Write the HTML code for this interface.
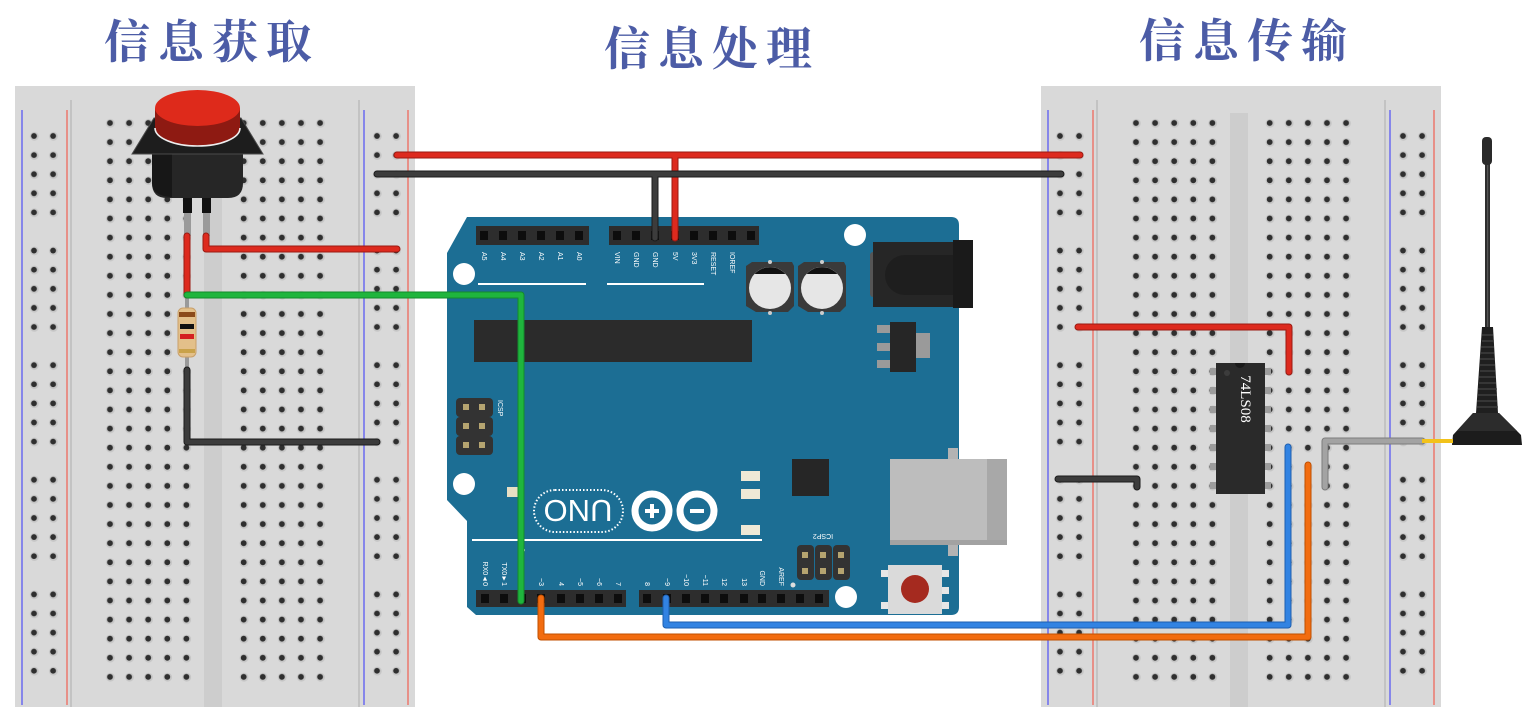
<!DOCTYPE html>
<html><head><meta charset="utf-8"><style>
html,body{margin:0;padding:0;background:#fff;}
svg{display:block}
.t{font-family:"Liberation Serif","Noto Serif CJK SC",serif;font-size:46px;fill:#4c5ca6;font-weight:bold;letter-spacing:8px}
.pl{font-family:"Liberation Sans",sans-serif;font-size:7px;fill:#fff}
</style></head><body>
<svg width="1534" height="716" viewBox="0 0 1534 716" xmlns="http://www.w3.org/2000/svg">
<defs>
 <pattern id="ph" x="0" y="0" width="19.1" height="19.1" patternUnits="userSpaceOnUse">
  <circle cx="9.9" cy="9.9" r="4.4" fill="#c6c6c6"/>
  <circle cx="9.55" cy="9.55" r="2.9" fill="#2f2f2f"/>
 </pattern>
 <pattern id="pr" x="0" y="0" width="19.1" height="114.6" patternUnits="userSpaceOnUse">
  <g fill="#c6c6c6">
   <circle cx="9.9" cy="9.9" r="4.4"/><circle cx="9.9" cy="29" r="4.4"/><circle cx="9.9" cy="48.1" r="4.4"/><circle cx="9.9" cy="67.2" r="4.4"/><circle cx="9.9" cy="86.3" r="4.4"/>
  </g>
  <g fill="#2f2f2f">
   <circle cx="9.55" cy="9.55" r="2.9"/><circle cx="9.55" cy="28.65" r="2.9"/><circle cx="9.55" cy="47.75" r="2.9"/><circle cx="9.55" cy="66.85" r="2.9"/><circle cx="9.55" cy="85.95" r="2.9"/>
  </g>
 </pattern>
</defs>

<!-- Titles -->
<text class="t" x="212" y="58" text-anchor="middle">信息获取</text>
<text class="t" x="712" y="65" text-anchor="middle">信息处理</text>
<text class="t" x="1247" y="57" text-anchor="middle">信息传输</text>

<!-- Left breadboard -->
<g>
 <rect x="15" y="86" width="400" height="621" fill="#d9d9d9"/>
 <rect x="204" y="113" width="18" height="594" fill="#cdcdcd"/>
 <line x1="71" y1="100" x2="71" y2="707" stroke="#bcbcbc" stroke-width="1.5"/>
 <line x1="359" y1="100" x2="359" y2="707" stroke="#bcbcbc" stroke-width="1.5"/>
 <line x1="22" y1="110" x2="22" y2="705" stroke="#6a6af0" stroke-width="1.5"/>
 <line x1="67" y1="110" x2="67" y2="705" stroke="#ec786e" stroke-width="1.5"/>
 <line x1="364" y1="110" x2="364" y2="705" stroke="#6a6af0" stroke-width="1.5"/>
 <line x1="408" y1="110" x2="408" y2="705" stroke="#ec786e" stroke-width="1.5"/>
 <g transform="translate(100.45,113.45)"><rect width="95.5" height="573" fill="url(#ph)"/></g>
 <g transform="translate(234.15,113.45)"><rect width="95.5" height="573" fill="url(#ph)"/></g>
 <g transform="translate(24.45,126.45)"><rect width="38.2" height="573" fill="url(#pr)"/></g>
 <g transform="translate(367.45,126.45)"><rect width="38.2" height="573" fill="url(#pr)"/></g>
</g>

<!-- Right breadboard -->
<g transform="translate(1026,0)">
 <rect x="15" y="86" width="400" height="621" fill="#d9d9d9"/>
 <rect x="204" y="113" width="18" height="594" fill="#cdcdcd"/>
 <line x1="71" y1="100" x2="71" y2="707" stroke="#bcbcbc" stroke-width="1.5"/>
 <line x1="359" y1="100" x2="359" y2="707" stroke="#bcbcbc" stroke-width="1.5"/>
 <line x1="22" y1="110" x2="22" y2="705" stroke="#6a6af0" stroke-width="1.5"/>
 <line x1="67" y1="110" x2="67" y2="705" stroke="#ec786e" stroke-width="1.5"/>
 <line x1="364" y1="110" x2="364" y2="705" stroke="#6a6af0" stroke-width="1.5"/>
 <line x1="408" y1="110" x2="408" y2="705" stroke="#ec786e" stroke-width="1.5"/>
 <g transform="translate(100.45,113.45)"><rect width="95.5" height="573" fill="url(#ph)"/></g>
 <g transform="translate(234.15,113.45)"><rect width="95.5" height="573" fill="url(#ph)"/></g>
 <g transform="translate(24.45,126.45)"><rect width="38.2" height="573" fill="url(#pr)"/></g>
 <g transform="translate(367.45,126.45)"><rect width="38.2" height="573" fill="url(#pr)"/></g>
</g>

<!-- Push button -->
<g>
 <rect x="184" y="212" width="7" height="24" fill="#9a9a9a"/>
 <rect x="203" y="212" width="7" height="24" fill="#9a9a9a"/>
 <rect x="183" y="194" width="9" height="19" fill="#111"/>
 <rect x="202" y="194" width="9" height="19" fill="#111"/>
 <path d="M152,154 H243 V183 Q243,198 228,198 H167 Q152,198 152,183 Z" fill="#262626"/>
 <path d="M152,154 H172 V197 Q152,196 152,183 Z" fill="#171717"/>
 <polygon points="154,118 241,118 263,154 132,154" fill="#1d1d1d" stroke="#4a4a4a" stroke-width="1"/>
 <path d="M155,108 V128 A42.5,18 0 0 0 240,128 V108 Z" fill="#8e1a12"/>
 <path d="M155,128 A42.5,18 0 0 0 240,128" fill="none" stroke="#eeeeee" stroke-width="1.6"/>
 <ellipse cx="197.5" cy="108" rx="42.5" ry="18" fill="#de2a1b"/>
</g>

<!-- Resistor -->
<g>
 <rect x="185" y="297" width="4" height="76" fill="#9a9a9a"/>
 <rect x="178" y="308" width="18" height="49" rx="5" fill="#e3c08a" stroke="#c9a06a" stroke-width="1"/>
 <rect x="179" y="312" width="16" height="5" fill="#8b4a1a"/>
 <rect x="180" y="324" width="14" height="5" fill="#111"/>
 <rect x="180" y="334" width="14" height="5" fill="#d42020"/>
 <rect x="179" y="349" width="16" height="4" fill="#c9a24a"/>
</g>

<!-- Arduino UNO -->
<g>
 <path d="M467,217 H951 Q959,217 959,225 V607 Q959,615 951,615 H476 L467,607 V521 L447,500 V253 Z" fill="#1c6e94"/>
 <!-- mounting holes -->
 <circle cx="464" cy="274" r="11" fill="#fff"/>
 <circle cx="855" cy="235" r="11" fill="#fff"/>
 <circle cx="464" cy="484" r="11" fill="#fff"/>
 <circle cx="846" cy="597" r="11" fill="#fff"/>
 <!-- top headers -->
 <rect x="476" y="226" width="113" height="19" fill="#2d2d2d"/>
 <g fill="#0d0d0d">
  <rect x="480" y="231" width="8" height="9"/><rect x="499" y="231" width="8" height="9"/><rect x="518" y="231" width="8" height="9"/><rect x="537" y="231" width="8" height="9"/><rect x="556" y="231" width="8" height="9"/><rect x="575" y="231" width="8" height="9"/>
 </g>
 <rect x="609" y="226" width="150" height="19" fill="#2d2d2d"/>
 <g fill="#0d0d0d">
  <rect x="613" y="231" width="8" height="9"/><rect x="632" y="231" width="8" height="9"/><rect x="651" y="231" width="8" height="9"/><rect x="671" y="231" width="8" height="9"/><rect x="690" y="231" width="8" height="9"/><rect x="709" y="231" width="8" height="9"/><rect x="728" y="231" width="8" height="9"/><rect x="747" y="231" width="8" height="9"/>
 </g>
 <g class="pl">
  <text transform="translate(482,252) rotate(90)">A5</text>
  <text transform="translate(501,252) rotate(90)">A4</text>
  <text transform="translate(520,252) rotate(90)">A3</text>
  <text transform="translate(539,252) rotate(90)">A2</text>
  <text transform="translate(558,252) rotate(90)">A1</text>
  <text transform="translate(577,252) rotate(90)">A0</text>
  <text transform="translate(615,252) rotate(90)">VIN</text>
  <text transform="translate(634,252) rotate(90)">GND</text>
  <text transform="translate(653,252) rotate(90)">GND</text>
  <text transform="translate(673,252) rotate(90)">5V</text>
  <text transform="translate(692,252) rotate(90)">3V3</text>
  <text transform="translate(711,252) rotate(90)">RESET</text>
  <text transform="translate(730,252) rotate(90)">IOREF</text>
 </g>
 <line x1="478" y1="284" x2="586" y2="284" stroke="#fff" stroke-width="2"/>
 <line x1="607" y1="284" x2="704" y2="284" stroke="#fff" stroke-width="2"/>
 <!-- capacitors -->
 <g>
  <polygon points="752,262 792,262 794,266 794,306 788,312 756,312 746,306 746,266" fill="#3a3a3a"/>
  <circle cx="770" cy="288" r="21" fill="#e6e6e6"/>
  <path d="M754.5,274 A21,21 0 0 1 785.5,274 Z" fill="#111"/>
  <circle cx="770" cy="262" r="2" fill="#ccc"/><circle cx="770" cy="313" r="2" fill="#ccc"/>
  <polygon points="804,262 844,262 846,266 846,306 840,312 808,312 798,306 798,266" fill="#3a3a3a"/>
  <circle cx="822" cy="288" r="21" fill="#e6e6e6"/>
  <path d="M806.5,274 A21,21 0 0 1 837.5,274 Z" fill="#111"/>
  <circle cx="822" cy="262" r="2" fill="#ccc"/><circle cx="822" cy="313" r="2" fill="#ccc"/>
 </g>
 <!-- power jack -->
 <rect x="870" y="252" width="6" height="45" rx="3" fill="#555"/>
 <rect x="873" y="242" width="82" height="65" fill="#262626"/>
 <path d="M905,255 H955 V295 H905 A20,20 0 0 1 905,255 Z" fill="#1e1e1e"/>
 <rect x="953" y="240" width="20" height="68" fill="#1a1a1a"/>
 <!-- regulator -->
 <g fill="#9a9a9a">
  <rect x="877" y="325" width="13" height="8"/><rect x="877" y="343" width="13" height="8"/><rect x="877" y="360" width="13" height="8"/>
  <rect x="916" y="333" width="14" height="25"/>
 </g>
 <rect x="890" y="322" width="26" height="50" fill="#262626"/>
 <!-- ATmega -->
 <rect x="474" y="320" width="278" height="42" fill="#2b2b2b"/>
 <!-- ICSP -->
 <g>
  <rect x="456" y="398" width="37" height="19" rx="4" fill="#333"/>
  <rect x="456" y="417" width="37" height="19" rx="4" fill="#333"/>
  <rect x="456" y="436" width="37" height="19" rx="4" fill="#333"/>
  <g fill="#b5a470">
   <rect x="463" y="404" width="6" height="6"/><rect x="479" y="404" width="6" height="6"/>
   <rect x="463" y="423" width="6" height="6"/><rect x="479" y="423" width="6" height="6"/>
   <rect x="463" y="442" width="6" height="6"/><rect x="479" y="442" width="6" height="6"/>
  </g>
  <text class="pl" transform="translate(498,400) rotate(90)">ICSP</text>
 </g>
 <rect x="507" y="487" width="11" height="10" fill="#e8dfc4"/>
 <!-- LEDs -->
 <g fill="#efe9d6">
  <rect x="741" y="471" width="19" height="10"/><rect x="741" y="489" width="19" height="10"/><rect x="741" y="525" width="19" height="10"/>
 </g>
 <rect x="792" y="459" width="37" height="37" fill="#262626"/>
 <!-- UNO logo -->
 <rect x="534" y="490" width="89" height="42" rx="21" fill="none" stroke="#fff" stroke-width="2" stroke-dasharray="1.5 2"/>
 <text transform="translate(578,511) rotate(180)" text-anchor="middle" dy="11" font-family="Liberation Sans,sans-serif" font-size="31" fill="#fff">UNO</text>
 <circle cx="652" cy="511" r="17" fill="none" stroke="#fff" stroke-width="7"/>
 <circle cx="697" cy="511" r="17" fill="none" stroke="#fff" stroke-width="7"/>
 <path d="M645,511 H659 M652,504 V518" stroke="#fff" stroke-width="4"/>
 <path d="M690,511 H704" stroke="#fff" stroke-width="4"/>
 <line x1="472" y1="540" x2="762" y2="540" stroke="#fff" stroke-width="2"/>
 <!-- bottom labels -->
 <g class="pl" text-anchor="end">
  <text transform="translate(483,586) rotate(90)">RX0◄0</text>
  <text transform="translate(502,586) rotate(90)">TX0►1</text>
  <text transform="translate(520,552) rotate(90)">2</text>
  <text transform="translate(539,586) rotate(90)">~3</text>
  <text transform="translate(559,586) rotate(90)">4</text>
  <text transform="translate(578,586) rotate(90)">~5</text>
  <text transform="translate(597,586) rotate(90)">~6</text>
  <text transform="translate(616,586) rotate(90)">7</text>
  <text transform="translate(645,586) rotate(90)">8</text>
  <text transform="translate(665,586) rotate(90)">~9</text>
  <text transform="translate(684,586) rotate(90)">~10</text>
  <text transform="translate(703,586) rotate(90)">~11</text>
  <text transform="translate(722,586) rotate(90)">12</text>
  <text transform="translate(742,586) rotate(90)">13</text>
  <text transform="translate(760,586) rotate(90)">GND</text>
  <text transform="translate(779,586) rotate(90)">AREF</text>
 </g>
 <!-- bottom headers -->
 <rect x="476" y="590" width="150" height="17" fill="#2d2d2d"/>
 <g fill="#0d0d0d">
  <rect x="481" y="594" width="8" height="9"/><rect x="500" y="594" width="8" height="9"/><rect x="518" y="594" width="8" height="9"/><rect x="537" y="594" width="8" height="9"/><rect x="557" y="594" width="8" height="9"/><rect x="576" y="594" width="8" height="9"/><rect x="595" y="594" width="8" height="9"/><rect x="614" y="594" width="8" height="9"/>
 </g>
 <rect x="639" y="590" width="190" height="17" fill="#2d2d2d"/>
 <g fill="#0d0d0d">
  <rect x="643" y="594" width="8" height="9"/><rect x="663" y="594" width="8" height="9"/><rect x="682" y="594" width="8" height="9"/><rect x="701" y="594" width="8" height="9"/><rect x="720" y="594" width="8" height="9"/><rect x="740" y="594" width="8" height="9"/><rect x="758" y="594" width="8" height="9"/><rect x="777" y="594" width="8" height="9"/><rect x="796" y="594" width="8" height="9"/><rect x="815" y="594" width="8" height="9"/>
 </g>
 <circle cx="793" cy="585" r="2.5" fill="#ddd"/>
 <!-- ICSP2 -->
 <g>
  <rect x="797" y="545" width="17" height="35" rx="4" fill="#333"/>
  <rect x="815" y="545" width="17" height="35" rx="4" fill="#333"/>
  <rect x="833" y="545" width="17" height="35" rx="4" fill="#333"/>
  <g fill="#b5a470">
   <rect x="802" y="552" width="6" height="6"/><rect x="820" y="552" width="6" height="6"/><rect x="838" y="552" width="6" height="6"/>
   <rect x="802" y="568" width="6" height="6"/><rect x="820" y="568" width="6" height="6"/><rect x="838" y="568" width="6" height="6"/>
  </g>
  <text class="pl" transform="translate(823,534) rotate(180)" text-anchor="middle">ICSP2</text>
 </g>
 <!-- reset button -->
 <g fill="#e6e6e6">
  <rect x="881" y="570" width="8" height="7"/><rect x="881" y="602" width="8" height="7"/>
  <rect x="941" y="570" width="8" height="7"/><rect x="941" y="587" width="8" height="7"/><rect x="941" y="602" width="8" height="7"/>
 </g>
 <rect x="888" y="565" width="54" height="49" fill="#dadada"/>
 <circle cx="915" cy="589" r="14" fill="#a52a1f"/>
 <!-- USB -->
 <rect x="948" y="448" width="10" height="108" fill="#b3b3b3"/>
 <rect x="890" y="459" width="97" height="86" fill="#bdbdbd"/>
 <rect x="987" y="459" width="20" height="86" fill="#a8a8a8"/>
 <rect x="890" y="540" width="117" height="5" fill="#a2a2a2"/>
</g>

<!-- 74LS08 chip -->
<g>
 <g fill="#9c9c9c">
  <rect x="1210" y="368" width="7" height="7"/><rect x="1210" y="387" width="7" height="7"/><rect x="1210" y="406" width="7" height="7"/><rect x="1210" y="425" width="7" height="7"/><rect x="1210" y="444" width="7" height="7"/><rect x="1210" y="463" width="7" height="7"/><rect x="1210" y="482" width="7" height="7"/>
  <rect x="1264" y="368" width="7" height="7"/><rect x="1264" y="387" width="7" height="7"/><rect x="1264" y="406" width="7" height="7"/><rect x="1264" y="425" width="7" height="7"/><rect x="1264" y="444" width="7" height="7"/><rect x="1264" y="463" width="7" height="7"/><rect x="1264" y="482" width="7" height="7"/>
 </g>
 <rect x="1216" y="363" width="49" height="131" fill="#2a2a2a"/>
 <path d="M1235,363 A5,5 0 0 0 1245,363 Z" fill="#1a1a1a"/>
 <circle cx="1227" cy="373" r="3" fill="#3c3c3c"/>
 <text transform="translate(1241,399) rotate(90)" text-anchor="middle" font-family="Liberation Serif,serif" font-size="15" fill="#fff">74LS08</text>
</g>

<!-- Antenna -->
<g>
 <rect x="1485" y="160" width="5" height="172" fill="#2e2e2e"/>
 <rect x="1487" y="165" width="1.2" height="165" fill="#555"/>
 <rect x="1482" y="137" width="10" height="28" rx="4" fill="#2a2a2a"/>
 <polygon points="1482,327 1493,327 1498,413 1476,413" fill="#1f1f1f"/>
 <g stroke="#444" stroke-width="1.3">
  <line x1="1482" y1="335" x2="1493" y2="335"/><line x1="1482" y1="341" x2="1494" y2="341"/><line x1="1481" y1="347" x2="1494" y2="347"/><line x1="1481" y1="353" x2="1494" y2="353"/><line x1="1480" y1="359" x2="1495" y2="359"/><line x1="1480" y1="365" x2="1495" y2="365"/><line x1="1480" y1="371" x2="1495" y2="371"/><line x1="1479" y1="377" x2="1496" y2="377"/><line x1="1479" y1="383" x2="1496" y2="383"/><line x1="1478" y1="389" x2="1497" y2="389"/><line x1="1478" y1="395" x2="1497" y2="395"/><line x1="1477" y1="401" x2="1497" y2="401"/><line x1="1477" y1="407" x2="1498" y2="407"/>
 </g>
 <polygon points="1473,413 1499,413 1521,435 1522,445 1452,445 1453,435" fill="#1c1c1c"/>
 <polygon points="1473,413 1499,413 1517,431 1457,431" fill="#2c2c2c"/>
</g>

<!-- Wires -->
<g fill="none" stroke-linecap="round" stroke-linejoin="round">
 <!-- red top long -->
 <path d="M397,155 H1080 M675,155 V238" stroke="#9a1a12" stroke-width="7"/>
 <path d="M397,155 H1080 M675,155 V238" stroke="#dd2a1e" stroke-width="5"/>
 <!-- black top long -->
 <path d="M377,174 H1061 M655,174 V238" stroke="#1c1c1c" stroke-width="7"/>
 <path d="M377,174 H1061 M655,174 V238" stroke="#3c3c3c" stroke-width="5"/>
 <!-- red from button -->
 <path d="M206,236 V249 H397" stroke="#9a1a12" stroke-width="7"/>
 <path d="M206,236 V249 H397" stroke="#dd2a1e" stroke-width="5"/>
 <path d="M187,236 V295" stroke="#9a1a12" stroke-width="7"/>
 <path d="M187,236 V295" stroke="#dd2a1e" stroke-width="5"/>
 <!-- black resistor to rail -->
 <path d="M187,370 V442 H377" stroke="#1c1c1c" stroke-width="7"/>
 <path d="M187,370 V442 H377" stroke="#3c3c3c" stroke-width="5"/>
 <!-- green -->
 <path d="M187,295 H521 V601" stroke="#138a2c" stroke-width="7"/>
 <path d="M187,295 H521 V601" stroke="#1fb53d" stroke-width="5"/>
 <!-- orange -->
 <path d="M541,598 V637 H1308 V465" stroke="#c04f00" stroke-width="7"/>
 <path d="M541,598 V637 H1308 V465" stroke="#f26c10" stroke-width="5"/>
 <!-- blue -->
 <path d="M666,598 V625 H1288 V447" stroke="#1e5fb0" stroke-width="7"/>
 <path d="M666,598 V625 H1288 V447" stroke="#3283e2" stroke-width="5"/>
 <!-- red right -->
 <path d="M1078,327 H1289 V372" stroke="#9a1a12" stroke-width="7"/>
 <path d="M1078,327 H1289 V372" stroke="#dd2a1e" stroke-width="5"/>
 <!-- black right -->
 <path d="M1058,479 H1137 V487" stroke="#1c1c1c" stroke-width="7"/>
 <path d="M1058,479 H1137 V487" stroke="#3c3c3c" stroke-width="5"/>
 <!-- gray -->
 <path d="M1325,487 V441 H1422" stroke="#7c7c7c" stroke-width="7"/>
 <path d="M1325,487 V441 H1422" stroke="#a3a3a3" stroke-width="5"/>
</g>
<line x1="1422" y1="441" x2="1453" y2="441" stroke="#f2c21a" stroke-width="4"/>
</svg>
</body></html>
